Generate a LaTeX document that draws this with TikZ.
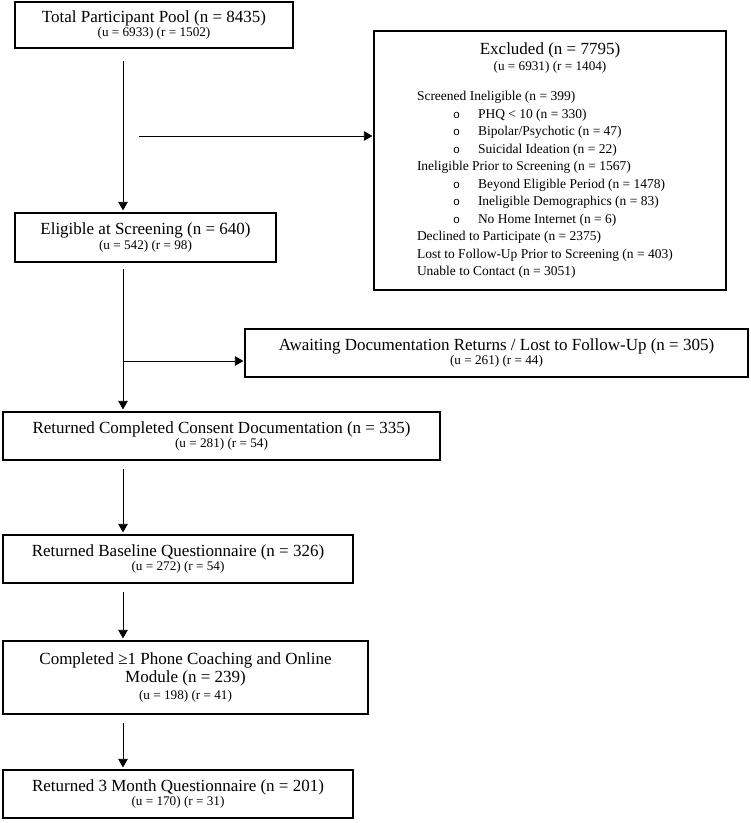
\documentclass[tikz,border=0pt]{standalone}
\usepackage{fontspec}
\setmainfont{Liberation Serif}
\newfontfamily\bulletfont{Liberation Mono}
\usetikzlibrary{arrows.meta}

\newcommand{\mainsize}{\fontsize{17}{19}\selectfont}
\newcommand{\subsize}{\fontsize{13.2}{16}\selectfont}
\newcommand{\listsize}{\fontsize{13.5}{17.5}\selectfont}
\newcommand{\subline}[1]{\hspace*{36pt}\makebox[25pt][l]{\bulletfont\fontsize{11.5}{11.5}\selectfont o}#1}

\begin{document}
\begin{tikzpicture}[x=1pt, y=-1pt, >={Triangle[length=8.5pt,width=9.5pt]}, line width=0.8pt,
  box/.style={draw, line width=1.2pt, inner sep=0pt, align=center}]

\useasboundingbox (0,0) rectangle (751,823);

% Main flow boxes
\node[box, minimum width=278, minimum height=46] (tot) at (154,25)
  {\mainsize Total Participant Pool (n = 8435)\\[1pt] \subsize (u = 6933) (r = 1502)};
\node[box, minimum width=261, minimum height=49] (elig) at (145.5,237.5)
  {\mainsize Eligible at Screening (n = 640)\\[1pt] \subsize (u = 542) (r = 98)};
\node[box, minimum width=437, minimum height=48] (consent) at (221.5,436)
  {\mainsize Returned Completed Consent Documentation (n = 335)\\[1pt] \subsize (u = 281) (r = 54)};
\node[box, minimum width=350, minimum height=48] (base) at (178,559)
  {\mainsize Returned Baseline Questionnaire (n = 326)\\[1pt] \subsize (u = 272) (r = 54)};
\node[box, minimum width=365, minimum height=73] (coach) at (185.5,677.5)
  {\mainsize Completed ≥1 Phone Coaching and Online\\[2pt] \mainsize Module (n = 239)\\[3pt] \subsize (u = 198) (r = 41)};
\node[box, minimum width=350, minimum height=48] (month) at (178,794)
  {\mainsize Returned 3 Month Questionnaire (n = 201)\\[1pt] \subsize (u = 170) (r = 31)};

% Side boxes
\node[box, minimum width=352, minimum height=259] (excl) at (550,160.5)
  {\parbox{266pt}{\centering\mainsize Excluded (n = 7795)\\ \subsize (u = 6931) (r = 1404)\par
   \vspace{13pt}\raggedright\listsize
   Screened Ineligible (n = 399)\\
   \subline{PHQ < 10 (n = 330)}\\
   \subline{Bipolar/Psychotic (n = 47)}\\
   \subline{Suicidal Ideation (n = 22)}\\
   Ineligible Prior to Screening (n = 1567)\\
   \subline{Beyond Eligible Period (n = 1478)}\\
   \subline{Ineligible Demographics (n = 83)}\\
   \subline{No Home Internet (n = 6)}\\
   Declined to Participate (n = 2375)\\
   Lost to Follow-Up Prior to Screening (n = 403)\\
   Unable to Contact (n = 3051)}};
\node[box, minimum width=503, minimum height=48] (await) at (496.5,353)
  {\mainsize Awaiting Documentation Returns / Lost to Follow-Up (n = 305)\\[1pt] \subsize (u = 261) (r = 44)};

% Connectors
\coordinate (spine) at (123,0);
\coordinate (exfork) at (139,136);
\coordinate (awfork) at (123,361);
\draw[->, shorten <=12pt, shorten >=2pt] (tot.south -| spine) -- (elig.north -| spine);
\draw[->, shorten >=1pt] (exfork) -- (exfork -| excl.west);
\draw[->, shorten <=6pt, shorten >=2pt] (elig.south -| spine) -- (consent.north -| spine);
\draw[->, shorten >=1pt] (awfork) -- (awfork -| await.west);
\draw[->, shorten <=8pt, shorten >=2pt] (consent.south -| spine) -- (base.north -| spine);
\draw[->, shorten <=8pt, shorten >=2pt] (base.south -| spine) -- (coach.north -| spine);
\draw[->, shorten <=8pt, shorten >=2pt] (coach.south -| spine) -- (month.north -| spine);

\end{tikzpicture}
\end{document}
